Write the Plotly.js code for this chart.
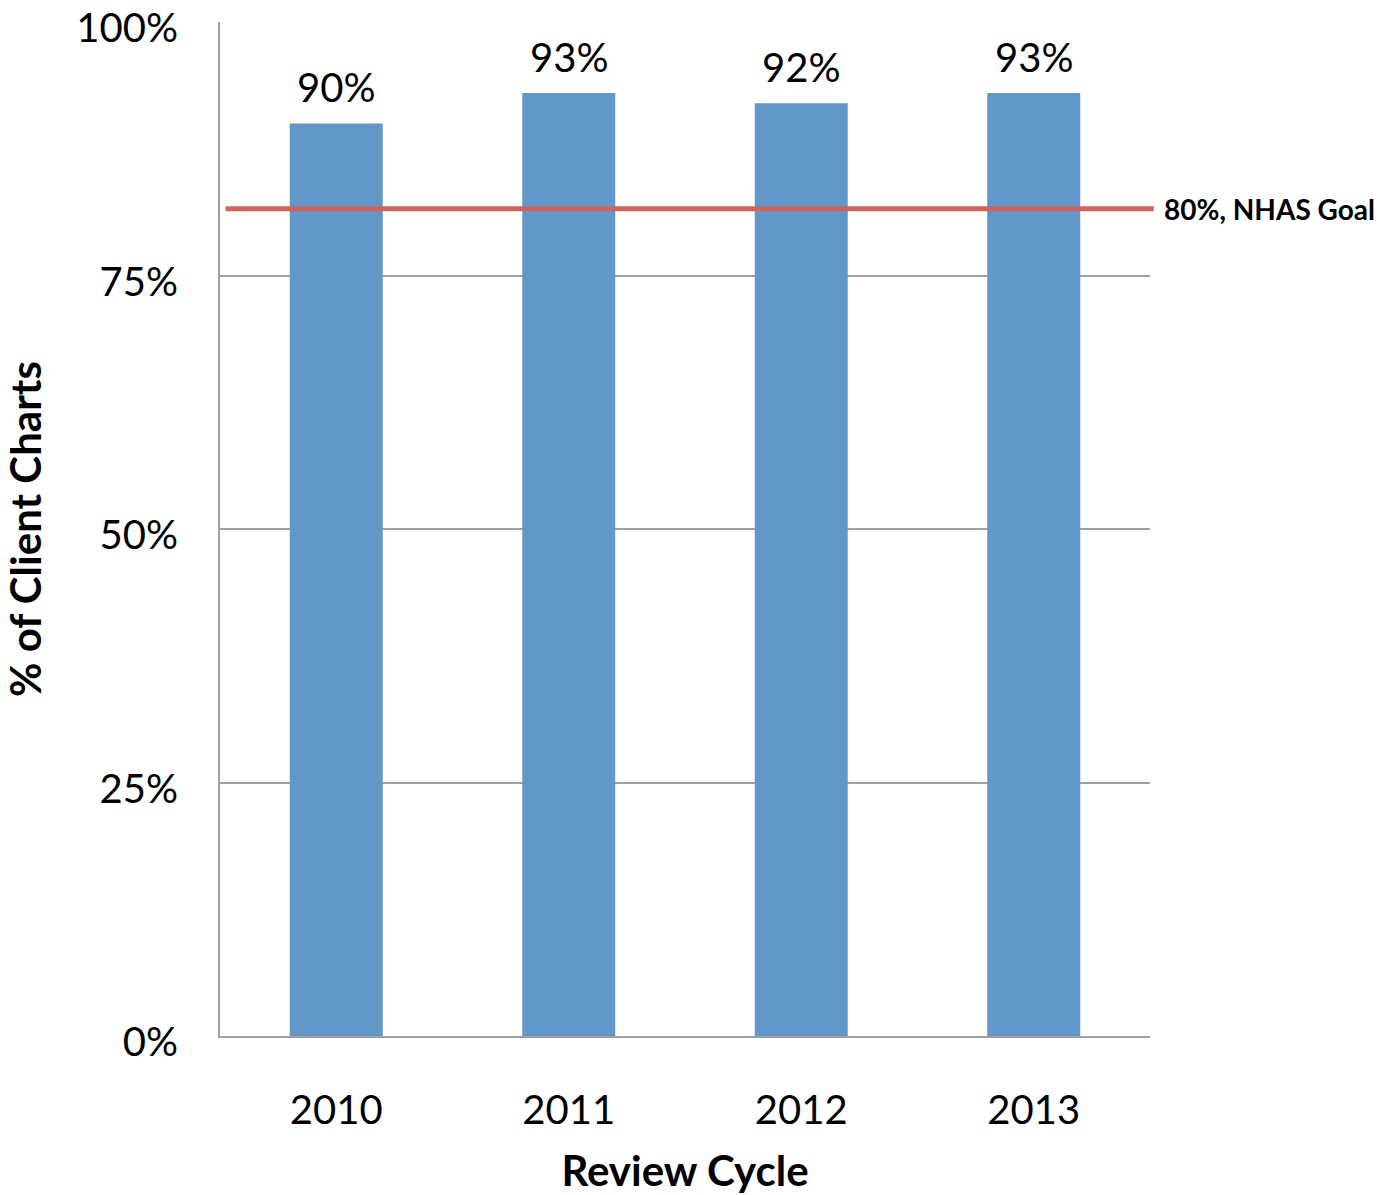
<!DOCTYPE html>
<html>
<head>
<meta charset="utf-8">
<script src="https://cdn.plot.ly/plotly-3.0.1.min.js"></script>
<style>html,body{margin:0;padding:0;background:#fff;}#chart{width:1397px;height:1195px;}</style>
</head>
<body>
<div id="chart"></div>
<script>
const categories = ['2010', '2011', '2012', '2013'];
const values = [0.90, 0.93, 0.92, 0.93];
const valueLabels = ['90%', '93%', '92%', '93%'];
const goalValue = 0.816;
const goalLabel = '80%, NHAS Goal';
const yTickVals = [0, 0.25, 0.5, 0.75, 1.0];
const yTickText = ['0%', '25%', '50%', '75%', '100%'];

const FONT = 'Lato, "Open Sans", sans-serif';

const trace = {
  type: 'bar',
  x: categories,
  y: values,
  marker: {color: '#6197C9'},
  hoverinfo: 'x+y'
};

// category index positions for the value labels
const annotations = categories.map((c, i) => ({
  x: i, y: values[i], xref: 'x', yref: 'y',
  text: valueLabels[i], showarrow: false,
  yanchor: 'middle', yshift: 36,
  font: {family: FONT, size: 40, color: '#000'}
}));
annotations.push({
  x: 1, xref: 'paper', xshift: 12, y: goalValue, yref: 'y',
  xanchor: 'left', yanchor: 'middle',
  text: '<b>' + goalLabel + '</b>', showarrow: false,
  font: {family: FONT, size: 28, color: '#000'}
});

const layout = {
  width: 1397, height: 1195,
  margin: {l: 220, r: 247, t: 22, b: 159},
  paper_bgcolor: '#fff', plot_bgcolor: '#fff',
  showlegend: false,
  bargap: 0.6,
  font: {family: FONT, color: '#000'},
  xaxis: {
    type: 'category',
    range: [-0.5, categories.length - 0.5],
    showline: true, linecolor: '#a0a0a0', linewidth: 2,
    showgrid: false, zeroline: false,
    ticks: 'outside', ticklen: 38, tickcolor: 'rgba(0,0,0,0)',
    tickfont: {family: FONT, size: 40, color: '#000'},
    title: {text: '<b>Review Cycle</b>', font: {family: FONT, size: 42, color: '#000'}, standoff: 27}
  },
  yaxis: {
    range: [0, 1.0001],
    tickvals: yTickVals, ticktext: yTickText,
    ticklabeloverflow: 'allow',
    ticklabelshift: 6,
    showline: true, linecolor: '#a0a0a0', linewidth: 2,
    showgrid: true, gridcolor: '#a0a0a0', gridwidth: 2,
    zeroline: false,
    ticks: 'outside', ticklen: 32, tickcolor: 'rgba(0,0,0,0)',
    tickfont: {family: FONT, size: 40, color: '#000'},
    title: {text: '<b>% of Client Charts</b>', font: {family: FONT, size: 42, color: '#000'}, standoff: 28}
  },
  shapes: [{
    type: 'line', xref: 'paper', yref: 'y',
    x0: 0.006, x1: 1.004, y0: goalValue, y1: goalValue,
    line: {color: '#CF635E', width: 5}
  }],
  annotations: annotations
};

Plotly.newPlot('chart', [trace], layout, {displayModeBar: false, staticPlot: true});
</script>
</body>
</html>
